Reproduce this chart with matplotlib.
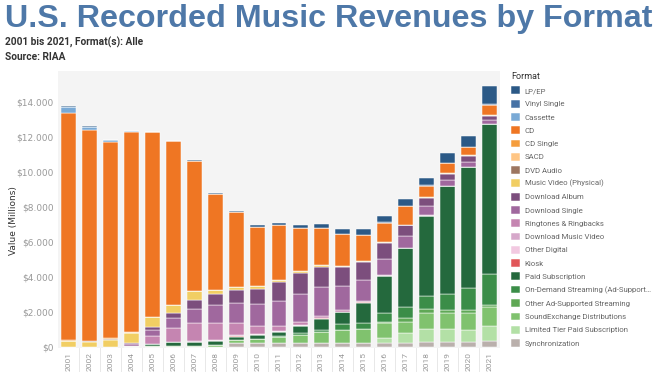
import numpy as np
import matplotlib
matplotlib.use("Agg")
import matplotlib.pyplot as plt
from matplotlib.ticker import FuncFormatter
from matplotlib import font_manager

# years on the x axis
years = [str(y) for y in range(2001, 2022)]

# revenue per format, $ millions (2001 .. 2021)
lp_ep = [30, 25, 25, 22, 15, 18, 25, 60, 65, 90, 130, 170, 215, 290, 360, 380, 430, 450, 540, 630, 1040]
vinyl_single = [5, 4, 4, 4, 10, 5, 4, 3, 3, 3, 5, 3, 3, 4, 6, 4, 6, 6, 6, 5, 7]
cassette = [360, 200, 100, 25, 13, 3, 3, 1, 0, 0, 0, 0, 0, 0, 0, 0, 0, 0, 0, 0, 0]
cd = [12950, 12050, 11230, 11450, 10520, 9370, 7450, 5470, 4270, 3390, 3100, 2490, 2120, 1830, 1470, 1140, 1050, 670, 610, 500, 620]
cd_single = [79, 20, 36, 15, 10, 7, 12, 3, 3, 3, 2, 2, 1, 1, 1, 0, 0, 0, 0, 0, 0]
sacd = [0, 0, 26, 17, 8, 2, 1, 1, 0, 0, 0, 0, 0, 0, 0, 0, 0, 0, 0, 0, 0]
dvd_audio = [6, 9, 8, 6, 3, 2, 1, 1, 1, 0, 0, 0, 0, 0, 0, 0, 0, 0, 0, 0, 0]
music_video = [320, 290, 400, 600, 600, 450, 480, 220, 165, 150, 120, 95, 70, 60, 45, 35, 25, 20, 18, 15, 20]
dl_album = [0, 0, 0, 46, 136, 275, 498, 635, 743, 872, 1071, 1204, 1180, 1090, 1040, 930, 620, 500, 340, 330, 250]
dl_single = [0, 0, 0, 139, 364, 581, 811, 1032, 1150, 1250, 1450, 1600, 1650, 1400, 1220, 880, 670, 500, 370, 300, 220]
ringtones = [0, 0, 0, 0, 421, 774, 1056, 977, 702, 448, 277, 167, 97, 66, 54, 41, 28, 21, 17, 15, 14]
dl_music_video = [0, 0, 0, 0, 2, 26, 30, 30, 29, 28, 25, 22, 20, 15, 10, 8, 6, 4, 3, 2, 2]
other_digital = [0, 0, 0, 2, 3, 8, 22, 35, 30, 25, 20, 15, 12, 10, 8, 6, 5, 4, 3, 2, 2]
kiosk = [0, 0, 0, 0, 1, 2, 2, 3, 20, 25, 25, 25, 25, 10, 5, 2, 1, 1, 1, 1, 1]
paid_sub = [0, 0, 0, 0, 149, 206, 218, 221, 213, 212, 247, 399, 628, 700, 1140, 2150, 3330, 4600, 6130, 6930, 8530]
on_demand = [0, 0, 0, 0, 0, 0, 0, 0, 0, 0, 60, 120, 150, 300, 370, 480, 620, 720, 940, 1230, 1800]
other_ad = [0, 0, 0, 0, 0, 0, 0, 0, 0, 0, 0, 0, 0, 0, 0, 50, 230, 220, 150, 180, 130]
soundexchange = [0, 0, 0, 7, 20, 32, 36, 100, 155, 249, 330, 462, 620, 773, 803, 900, 640, 960, 940, 950, 1050]
limited_tier = [0, 0, 0, 0, 0, 0, 0, 0, 0, 0, 0, 0, 0, 0, 0, 240, 560, 700, 710, 700, 890]
sync = [0, 0, 0, 0, 0, 0, 0, 0, 196, 188, 196, 189, 190, 190, 203, 228, 232, 285, 281, 267, 300]

# legend order (top of the stack first)
formats = ["LP/EP", "Vinyl Single", "Cassette", "CD", "CD Single", "SACD", "DVD Audio",
           "Music Video (Physical)", "Download Album", "Download Single",
           "Ringtones & Ringbacks", "Download Music Video", "Other Digital", "Kiosk",
           "Paid Subscription", "On-Demand Streaming (Ad-Support\u2026",
           "Other Ad-Supported Streaming", "SoundExchange Distributions",
           "Limited Tier Paid Subscription", "Synchronization"]
series = [lp_ep, vinyl_single, cassette, cd, cd_single, sacd, dvd_audio, music_video,
          dl_album, dl_single, ringtones, dl_music_video, other_digital, kiosk,
          paid_sub, on_demand, other_ad, soundexchange, limited_tier, sync]
colors = ["#2b5986", "#4672a5", "#7aaad6", "#ef7623", "#f59d3d", "#ffc685", "#9d7660",
          "#f1ce63", "#7c4e7d", "#a0689e", "#c585b1", "#d6a8ca", "#f2c9e1", "#e15759",
          "#24693d", "#3b8d48", "#5fa855", "#80c26e", "#b3e0a6", "#bab0ac"]

narrow = ["Liberation Sans Narrow", "Roboto", "DejaVu Sans"]

fig = plt.figure(figsize=(6.6, 3.72), dpi=100)
ax = fig.add_axes([58 / 660, 24 / 372, 442 / 660, 277 / 372])
ax.set_facecolor("#f4f4f4")

x = np.arange(len(years))
bottom = np.zeros(len(years))
handles = {}
# draw from the bottom of the stack (Synchronization) up to LP/EP
for name, vals, col in reversed(list(zip(formats, series, colors))):
    vals = np.array(vals, dtype=float)
    b = ax.bar(x, vals, 0.71, bottom=bottom, color=col, edgecolor="white",
               linewidth=0.35, label=name)
    handles[name] = b
    bottom += vals

ax.set_xlim(-0.5, len(years) - 0.5)
ax.set_ylim(-80, 15750)
ax.set_yticks(np.arange(0, 14001, 2000))
ax.yaxis.set_major_formatter(FuncFormatter(lambda v, p: "$" + f"{int(v):,}".replace(",", ".")))
ax.set_xticks(x)
ax.set_xticklabels(years, rotation=90, family=narrow)
ax.tick_params(axis="y", length=0, labelsize=6.5, labelcolor="#999999", pad=3)
ax.tick_params(axis="x", length=0, labelsize=6, labelcolor="#999999", pad=3)
for s in ax.spines.values():
    s.set_visible(False)

# thin dividers between the year headers
trans = ax.get_xaxis_transform()
for i in x[:-1]:
    ax.plot([i + 0.5, i + 0.5], [0, -0.085], transform=trans, color="#e4e4e4",
            lw=0.6, clip_on=False)

ax.set_ylabel("Value (Millions)", fontsize=6.5, color="#333333")
ax.yaxis.set_label_coords(-40 / 442, 0.46)

# header text
title = fig.text(5 / 660, 1 - 27 / 372, "U.S. Recorded Music Revenues by Format",
                 fontsize=23, fontweight="bold", color="#4e78a8",
                 family="Liberation Sans", va="baseline")
r = fig.canvas.get_renderer()
w = title.get_window_extent(r).width
title.set_fontsize(23 * 648 / w)

fig.text(5 / 660, 1 - 42 / 372, "2001 bis 2021, Format(s): Alle", fontsize=7.3,
         fontweight="bold", color="#333333", family=narrow, va="center")
fig.text(5 / 660, 1 - 57 / 372, "Source: RIAA", fontsize=7.3,
         fontweight="bold", color="#333333", family=narrow, va="center")


def make_legend(fs, ls):
    leg = ax.legend([handles[n] for n in formats], formats, loc="upper left",
                    bbox_to_anchor=(511 / 660, 1 - 72 / 372),
                    bbox_transform=fig.transFigure, frameon=False, title="Format",
                    alignment="left", prop=font_manager.FontProperties(family=narrow, size=fs),
                    labelcolor="#666666", handlelength=9 / (fs * 100 / 72),
                    handleheight=9 / (fs * 100 / 72), handletextpad=0.6,
                    labelspacing=ls, borderaxespad=0, borderpad=0)
    leg.get_title().set_fontproperties(font_manager.FontProperties(family=narrow, size=6.5))
    leg.get_title().set_color("#333333")
    return leg


# shrink the legend text until the longest label fits in the figure
fs = 6.8
leg = make_legend(fs, 0.5)
while True:
    fig.canvas.draw()
    right = max(t.get_window_extent(r).x1 for t in leg.get_texts())
    if right <= 654 or fs < 4.5:
        break
    fs -= 0.2
    leg = make_legend(fs, 0.5)

# set row spacing to about 13.3 px like the reference
texts = leg.get_texts()
gap = (texts[0].get_window_extent(r).y0 - texts[-1].get_window_extent(r).y0) / (len(texts) - 1)
ls = 0.5 + (13.3 - gap) / (fs * 100 / 72)
leg = make_legend(fs, ls)

fig.savefig("out.png", dpi=100)
